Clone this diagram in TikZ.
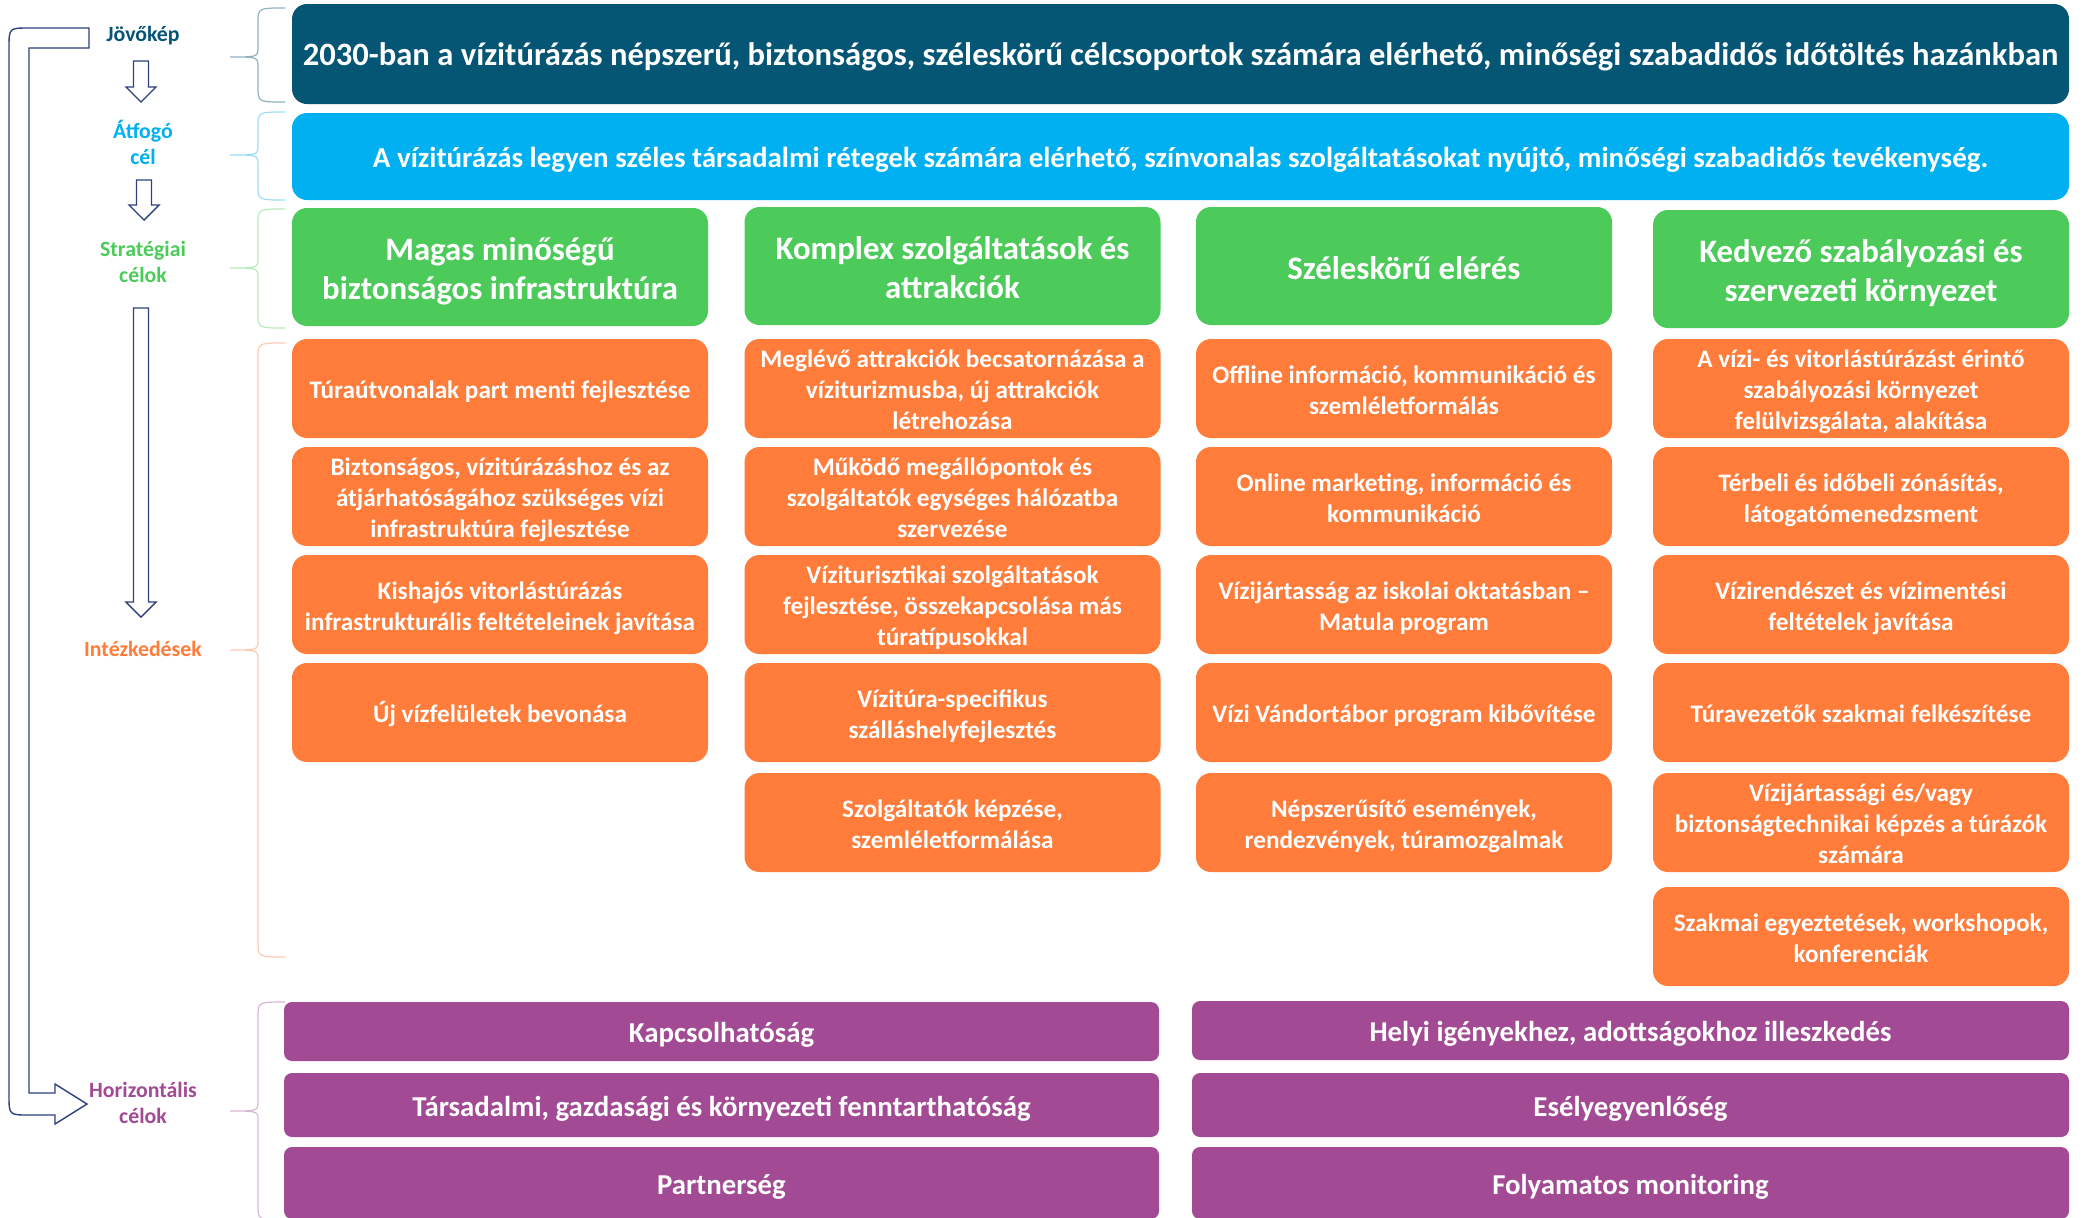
\documentclass[tikz,border=0pt]{standalone}
\usepackage{fontspec}
\setmainfont{Carlito}
\definecolor{visioncol}{RGB}{5,85,117}
\definecolor{aimcol}{RGB}{0,176,240}
\definecolor{stratcol}{RGB}{76,203,90}
\definecolor{actcol}{RGB}{255,124,58}
\definecolor{horcol}{RGB}{162,74,148}
\definecolor{arrcol}{RGB}{47,64,128}
\newcommand{\grpbrace}[4]{\draw[#1, line width=0.6pt] (285,#2) .. controls (258,#2) .. (258,#2+15) -- (258,#4-10) .. controls (258,#4) .. (230,#4) .. controls (258,#4) .. (258,#4+10) -- (258,#3-15) .. controls (258,#3) .. (285,#3);}
\tikzset{
  box/.style={rounded corners=7.5pt, text=white, align=flush center, inner sep=0pt,
    execute at begin node={\noindent\rule{0pt}{#1em}}, execute at end node={\rule[-.3em]{0pt}{0pt}}},
  visbox/.style={box=1.0, fill=visioncol, text width=888.5pt, minimum height=50pt, font=\fontsize{16.3}{19}\selectfont\bfseries},
  aimbox/.style={box=1.07, fill=aimcol, text width=888.5pt, minimum height=43.5pt, font=\fontsize{14.5}{17}\selectfont\bfseries},
  stratbox/.style={box=1.1, fill=stratcol, text width=208pt, minimum height=59pt, font=\fontsize{16.4}{19.3}\selectfont\bfseries},
  actbox/.style={box=1.13, fill=actcol, text width=208pt, minimum height=49.5pt, font=\fontsize{12.6}{15.5}\selectfont\bfseries},
  horbox/.style={box=1.07, rounded corners=4pt, fill=horcol, font=\fontsize{14.4}{17}\selectfont\bfseries},
  lvl/.style={align=center, inner sep=0pt, font=\fontsize{10.9}{13}\selectfont\bfseries},
  hollow/.style={draw=arrcol, fill=white, line width=0.7pt},
  pics/dnarrow/.style={code={\draw[hollow] (-7.5,0) -- (7.5,0) -- (7.5,#1-15) -- (15,#1-15) -- (0,#1) -- (-15,#1-15) -- (-7.5,#1-15) -- cycle;}}
}
\begin{document}
\begin{tikzpicture}[x=0.5pt,y=-0.5pt]
\useasboundingbox (0,0) rectangle (2082,1217);
\clip (0,0) rectangle (2082,1217);
\draw[hollow] (89,28) -- (29,28) .. controls (9,28) .. (9,48) -- (9,1095) .. controls (9,1115) .. (29,1115) -- (55,1115) -- (55,1124) -- (87,1104) -- (55,1084) -- (55,1093) -- (29,1093) -- (29,48) -- (89,48) -- cycle;
\node[lvl, text=visioncol] (jovo) at (143,36) {Jövőkép};
\node[lvl, text=aimcol] (atfogo) at (143,142) {Átfogó\\cél};
\node[lvl, text=stratcol] (strat) at (143,262) {Stratégiai\\célok};
\node[lvl, text=actcol] (intez) at (143,649) {Intézkedések};
\node[lvl, text=horcol] (horiz) at (143,1103) {Horizontális\\célok};
\path (141,61) pic {dnarrow=41};
\path (144,180) pic {dnarrow=40};
\path (141,308) pic {dnarrow=309};
\grpbrace{visioncol!45}{8}{102}{57}
\grpbrace{aimcol!40}{112}{200}{155}
\grpbrace{stratcol!40}{209}{328}{268}
\grpbrace{actcol!40}{343}{957}{650}
\grpbrace{horcol!40}{1002}{1220}{1111}
\node[visbox] (vision) at (1180.5,54) {2030-ban a vízitúrázás népszerű, biztonságos, széleskörű célcsoportok számára elérhető, minőségi szabadidős időtöltés hazánkban};
\node[aimbox] (aim) at (1180.5,156.5) {A vízitúrázás legyen széles társadalmi rétegek számára elérhető, színvonalas szolgáltatásokat nyújtó, minőségi szabadidős tevékenység.};
\node[stratbox] (s1) at (500,267) {Magas minőségű\\biztonságos infrastruktúra};
\node[stratbox] (s2) at (952.5,266) {Komplex szolgáltatások és\\attrakciók};
\node[stratbox] (s3) at (1404,266) {Széleskörű elérés};
\node[stratbox] (s4) at (1861,269) {Kedvező szabályozási és\\szervezeti környezet};
\node[actbox] (m11) at (500,388.5) {Túraútvonalak part menti fejlesztése};
\node[actbox] (m12) at (500,496.5) {Biztonságos, vízitúrázáshoz és az\\átjárhatóságához szükséges vízi\\infrastruktúra fejlesztése};
\node[actbox] (m13) at (500,604.5) {Kishajós vitorlástúrázás\\infrastrukturális feltételeinek javítása};
\node[actbox] (m14) at (500,712.5) {Új vízfelületek bevonása};
\node[actbox] (m21) at (952.5,388.5) {Meglévő attrakciók becsatornázása a\\víziturizmusba, új attrakciók\\létrehozása};
\node[actbox] (m22) at (952.5,496.5) {Működő megállópontok és\\szolgáltatók egységes hálózatba\\szervezése};
\node[actbox] (m23) at (952.5,604.5) {Víziturisztikai szolgáltatások\\fejlesztése, összekapcsolása más\\túratípusokkal};
\node[actbox] (m24) at (952.5,712.5) {Vízitúra-specifikus\\szálláshelyfejlesztés};
\node[actbox] (m25) at (952.5,822.5) {Szolgáltatók képzése,\\szemléletformálása};
\node[actbox] (m31) at (1404,388.5) {Offline információ, kommunikáció és\\szemléletformálás};
\node[actbox] (m32) at (1404,496.5) {Online marketing, információ és\\kommunikáció};
\node[actbox] (m33) at (1404,604.5) {Vízijártasság az iskolai oktatásban –\\Matula program};
\node[actbox] (m34) at (1404,712.5) {Vízi Vándortábor program kibővítése};
\node[actbox] (m35) at (1404,822.5) {Népszerűsítő események,\\rendezvények, túramozgalmak};
\node[actbox] (m41) at (1861,388.5) {A vízi- és vitorlástúrázást érintő\\szabályozási környezet\\felülvizsgálata, alakítása};
\node[actbox] (m42) at (1861,496.5) {Térbeli és időbeli zónásítás,\\látogatómenedzsment};
\node[actbox] (m43) at (1861,604.5) {Vízirendészet és vízimentési\\feltételek javítása};
\node[actbox] (m44) at (1861,712.5) {Túravezetők szakmai felkészítése};
\node[actbox] (m45) at (1861,822.5) {Vízijártassági és/vagy\\biztonságtechnikai képzés a túrázók\\számára};
\node[actbox] (m46) at (1861,936.5) {Szakmai egyeztetések, workshopok,\\konferenciák};
\node[horbox, text width=437.5pt, minimum height=29.5pt] (h11) at (721.5,1031.5) {Kapcsolhatóság};
\node[horbox, text width=437.5pt, minimum height=32pt] (h12) at (721.5,1105) {Társadalmi, gazdasági és környezeti fenntarthatóság};
\node[horbox, text width=437.5pt, minimum height=36pt] (h13) at (721.5,1183) {Partnerség};
\node[horbox, text width=438.5pt, minimum height=29.5pt] (h21) at (1630.5,1030.5) {Helyi igényekhez, adottságokhoz illeszkedés};
\node[horbox, text width=438.5pt, minimum height=32pt] (h22) at (1630.5,1105) {Esélyegyenlőség};
\node[horbox, text width=438.5pt, minimum height=36pt] (h23) at (1630.5,1183) {Folyamatos monitoring};
\end{tikzpicture}
\end{document}
